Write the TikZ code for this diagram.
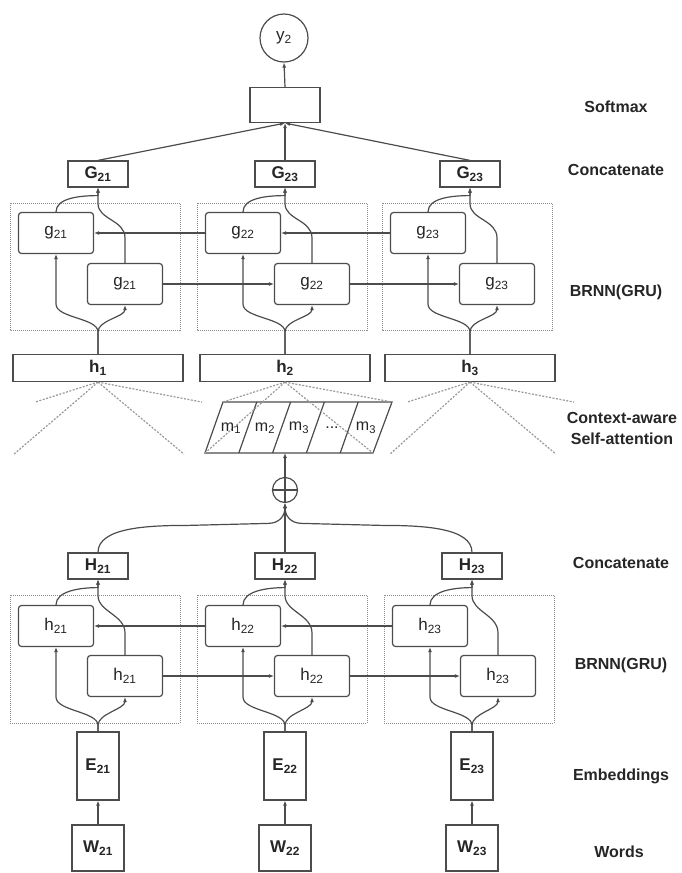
\documentclass[tikz,border=0pt]{standalone}
\usepackage{fontspec}
\setmainfont{Liberation Sans}
\usepackage{tikz}
\usetikzlibrary{arrows.meta}
\usetikzlibrary{calc}
\usepackage{xcolor}

\begin{document}
\begin{tikzpicture}[x=1pt,y=-1pt,
 ln/.style={draw=black!70,line width=1.2pt},
 arr/.style={ln,-{Latex[length=5pt,width=4pt]}},
 box/.style={ln,fill=white,inner sep=0pt,text=black!85,font=\bfseries\fontsize{17}{17}\selectfont},
 cell/.style={box,rounded corners=3pt,minimum width=75pt,minimum height=41pt,font=\fontsize{17}{17}\selectfont},
 wide/.style={box,minimum width=170pt,minimum height=27pt},
 cat/.style={box,minimum width=60pt,minimum height=26pt},
 group/.style={draw=black!45,densely dotted,line width=1pt},
 fan/.style={draw=black!40,dash pattern=on 2pt off 1.5pt,line width=1.2pt},
 lbl/.style={align=center,text=black!85,font=\bfseries\fontsize{16}{21}\selectfont}]
 \useasboundingbox (0,0) rectangle (682,873);

 %%%%%%%%%%%%%%%%%%%%%%%%%%%%%%%%%%% upper part
 \draw[group] (10,203) rectangle (180,330);
 \draw[group] (197,203) rectangle (367,330);
 \draw[group] (382,203) rectangle (552,330);

 \node[draw=black!70,line width=1.2pt,circle,minimum size=48pt,inner sep=0pt,text=black!85,font=\fontsize{17}{17}\selectfont] (y2) at (284,38) {y\textsubscript{2}};
 \node[box,minimum width=70pt,minimum height=35pt] (soft) at (285,105) {};
 \node[cat] (G21) at (98,174) {G\textsubscript{21}};
 \node[cat] (G22) at (285,174) {G\textsubscript{23}};
 \node[cat] (G23) at (470,174) {G\textsubscript{23}};

 \node[cell] (gb21) at (56,233) {g\textsubscript{21}};
 \node[cell] (gf21) at (125,284) {g\textsubscript{21}};
 \node[cell] (gb22) at (243,233) {g\textsubscript{22}};
 \node[cell] (gf22) at (312,284) {g\textsubscript{22}};
 \node[cell] (gb23) at (428,233) {g\textsubscript{23}};
 \node[cell] (gf23) at (497,284) {g\textsubscript{23}};

 \node[wide] (h1) at (98,368) {h\textsubscript{1}};
 \node[wide] (h2) at (285,368) {h\textsubscript{2}};
 \node[wide] (h3) at (470,368) {h\textsubscript{3}};

 \draw[arr] (soft.north) -- (y2.south);
 \draw[arr] (G21.north) -- (soft.south);
 \draw[arr] (G22.north) -- (soft.south);
 \draw[arr] (G23.north) -- (soft.south);

 \draw[arr] (gb22.west) -- (gb21.east);
 \draw[arr] (gb23.west) -- (gb22.east);
 \draw[arr] (gf21.east) -- (gf22.west);
 \draw[arr] (gf22.east) -- (gf23.west);

 \draw[arr] (h1.north) -- ++(0,-22) .. controls +(0,-14) and +(0,14) .. ($(gb21.south)+(0,50)$) -- (gb21.south);
 \draw[arr] (h1.north) -- ++(0,-22) .. controls +(0,-12) and +(0,12) .. (gf21.south);
 \draw[arr] (h2.north) -- ++(0,-22) .. controls +(0,-14) and +(0,14) .. ($(gb22.south)+(0,50)$) -- (gb22.south);
 \draw[arr] (h2.north) -- ++(0,-22) .. controls +(0,-12) and +(0,12) .. (gf22.south);
 \draw[arr] (h3.north) -- ++(0,-22) .. controls +(0,-14) and +(0,14) .. ($(gb23.south)+(0,50)$) -- (gb23.south);
 \draw[arr] (h3.north) -- ++(0,-22) .. controls +(0,-12) and +(0,12) .. (gf23.south);

 \draw[arr] (gf21.north) -- ++(0,-25) .. controls +(0,-18) and +(0,16) .. ($(G21.south)+(0,16)$) -- (G21.south);
 \draw[arr] (gb21.north) .. controls +(0,-14) and +(-18,0) .. ($(G21.south)+(0,8)$) -- (G21.south);
 \draw[arr] (gf22.north) -- ++(0,-25) .. controls +(0,-18) and +(0,16) .. ($(G22.south)+(0,16)$) -- (G22.south);
 \draw[arr] (gb22.north) .. controls +(0,-14) and +(-18,0) .. ($(G22.south)+(0,8)$) -- (G22.south);
 \draw[arr] (gf23.north) -- ++(0,-25) .. controls +(0,-18) and +(0,16) .. ($(G23.south)+(0,16)$) -- (G23.south);
 \draw[arr] (gb23.north) .. controls +(0,-14) and +(-18,0) .. ($(G23.south)+(0,8)$) -- (G23.south);

 %%%%%%%%%%%%%%%%%%%%%%%%%%%%%%%%%%% attention
 \draw[fan] (h1.south) -- ++(-63,20);
 \draw[fan] (h1.south) -- ++(104,20);
 \draw[fan] (h1.south) -- ++(-84,72);
 \draw[fan] (h1.south) -- ++(86,72);
 \draw[fan] (h3.south) -- ++(-63,20);
 \draw[fan] (h3.south) -- ++(104,20);
 \draw[fan] (h3.south) -- ++(-80,72);
 \draw[fan] (h3.south) -- ++(86,72);

 \draw[ln,fill=white] (223,402) -- (392,402) -- (373,453) -- (205,453) -- cycle;
 \draw[ln] (256.8,402) -- (238.8,453);
 \draw[ln] (290.6,402) -- (272.6,453);
 \draw[ln] (324.4,402) -- (306.4,453);
 \draw[ln] (358.2,402) -- (340.2,453);
 \draw[fan] (h2.south) -- (223,402);
 \draw[fan] (h2.south) -- (392,402);
 \draw[fan] (h2.south) -- (205,453);
 \draw[fan] (h2.south) -- (373,453);
 \node[text=black!85,font=\fontsize{16}{16}\selectfont] (m1) at (231,428) {m\textsubscript{1}};
 \node[text=black!85,font=\fontsize{16}{16}\selectfont] (m2) at (265,428) {m\textsubscript{2}};
 \node[text=black!85,font=\fontsize{16}{16}\selectfont] (m3) at (299,428) {m\textsubscript{3}};
 \node[text=black!85,font=\fontsize{16}{16}\selectfont] (m4) at (332,428) {...};
 \node[text=black!85,font=\fontsize{16}{16}\selectfont] (m5) at (366,428) {m\textsubscript{3}};
 \coordinate (att) at (285,453);

 \node[ln,circle,minimum size=25pt,inner sep=0pt] (sum) at (285,490) {};
 \draw[ln] (sum.north) -- (sum.south) (sum.west) -- (sum.east);
 \draw[arr] (sum.north) -- (att);

 %%%%%%%%%%%%%%%%%%%%%%%%%%%%%%%%%%% lower part
 \draw[group] (10,595) rectangle (180,723);
 \draw[group] (197,595) rectangle (367,723);
 \draw[group] (384,595) rectangle (554,723);

 \node[cat] (H21) at (98,566) {H\textsubscript{21}};
 \node[cat] (H22) at (285,566) {H\textsubscript{22}};
 \node[cat] (H23) at (472,566) {H\textsubscript{23}};

 \node[cell] (hb21) at (56,626) {h\textsubscript{21}};
 \node[cell] (hf21) at (125,676) {h\textsubscript{21}};
 \node[cell] (hb22) at (243,626) {h\textsubscript{22}};
 \node[cell] (hf22) at (312,676) {h\textsubscript{22}};
 \node[cell] (hb23) at (430,626) {h\textsubscript{23}};
 \node[cell] (hf23) at (498,676) {h\textsubscript{23}};

 \node[box,minimum width=42pt,minimum height=68pt] (E21) at (98,766) {E\textsubscript{21}};
 \node[box,minimum width=42pt,minimum height=68pt] (E22) at (285,766) {E\textsubscript{22}};
 \node[box,minimum width=42pt,minimum height=68pt] (E23) at (472,766) {E\textsubscript{23}};
 \node[box,minimum width=52pt,minimum height=46pt] (W21) at (98,848) {W\textsubscript{21}};
 \node[box,minimum width=52pt,minimum height=46pt] (W22) at (285,848) {W\textsubscript{22}};
 \node[box,minimum width=52pt,minimum height=46pt] (W23) at (472,848) {W\textsubscript{23}};

 \draw[arr] (H22.north) -- (sum.south);
 \draw[arr] (H21.north) .. controls +(0,-25) and +(-40,0) .. ++(90,-27) -- ++(80,-2) .. controls +(12,0) and +(0,12) .. (sum.south);
 \draw[arr] (H23.north) .. controls +(0,-25) and +(40,0) .. ++(-90,-27) -- ++(-80,-2) .. controls +(-12,0) and +(0,12) .. (sum.south);

 \draw[arr] (hb22.west) -- (hb21.east);
 \draw[arr] (hb23.west) -- (hb22.east);
 \draw[arr] (hf21.east) -- (hf22.west);
 \draw[arr] (hf22.east) -- (hf23.west);

 \draw[arr] (hf21.north) -- ++(0,-22) .. controls +(0,-18) and +(0,16) .. ($(H21.south)+(0,16)$) -- (H21.south);
 \draw[arr] (hb21.north) .. controls +(0,-14) and +(-18,0) .. ($(H21.south)+(0,8)$) -- (H21.south);
 \draw[arr] (hf22.north) -- ++(0,-22) .. controls +(0,-18) and +(0,16) .. ($(H22.south)+(0,16)$) -- (H22.south);
 \draw[arr] (hb22.north) .. controls +(0,-14) and +(-18,0) .. ($(H22.south)+(0,8)$) -- (H22.south);
 \draw[arr] (hf23.north) -- ++(0,-22) .. controls +(0,-18) and +(0,16) .. ($(H23.south)+(0,16)$) -- (H23.south);
 \draw[arr] (hb23.north) .. controls +(0,-14) and +(-18,0) .. ($(H23.south)+(0,8)$) -- (H23.south);

 \draw[arr] (E21.north) -- ++(0,-6) .. controls +(0,-14) and +(0,14) .. ($(hb21.south)+(0,50)$) -- (hb21.south);
 \draw[arr] (E21.north) -- ++(0,-6) .. controls +(0,-12) and +(0,12) .. (hf21.south);
 \draw[arr] (E22.north) -- ++(0,-6) .. controls +(0,-14) and +(0,14) .. ($(hb22.south)+(0,50)$) -- (hb22.south);
 \draw[arr] (E22.north) -- ++(0,-6) .. controls +(0,-12) and +(0,12) .. (hf22.south);
 \draw[arr] (E23.north) -- ++(0,-6) .. controls +(0,-14) and +(0,14) .. ($(hb23.south)+(0,50)$) -- (hb23.south);
 \draw[arr] (E23.north) -- ++(0,-6) .. controls +(0,-12) and +(0,12) .. (hf23.south);

 \draw[arr] (W21.north) -- (E21.south);
 \draw[arr] (W22.north) -- (E22.south);
 \draw[arr] (W23.north) -- (E23.south);

 %%%%%%%%%%%%%%%%%%%%%%%%%%%%%%%%%%% layer names
 \node[lbl] (lsoft) at (616,107) {Softmax};
 \node[lbl] (lcat1) at (616,170) {Concatenate};
 \node[lbl] (lrnn1) at (616,292) {BRNN(GRU)};
 \node[lbl] (latt) at (622,428) {Context-aware\\Self-attention};
 \node[lbl] (lcat2) at (621,563) {Concatenate};
 \node[lbl] (lrnn2) at (621,665) {BRNN(GRU)};
 \node[lbl] (lemb) at (621,776) {Embeddings};
 \node[lbl] (lword) at (619,852) {Words};
\end{tikzpicture}
\end{document}
